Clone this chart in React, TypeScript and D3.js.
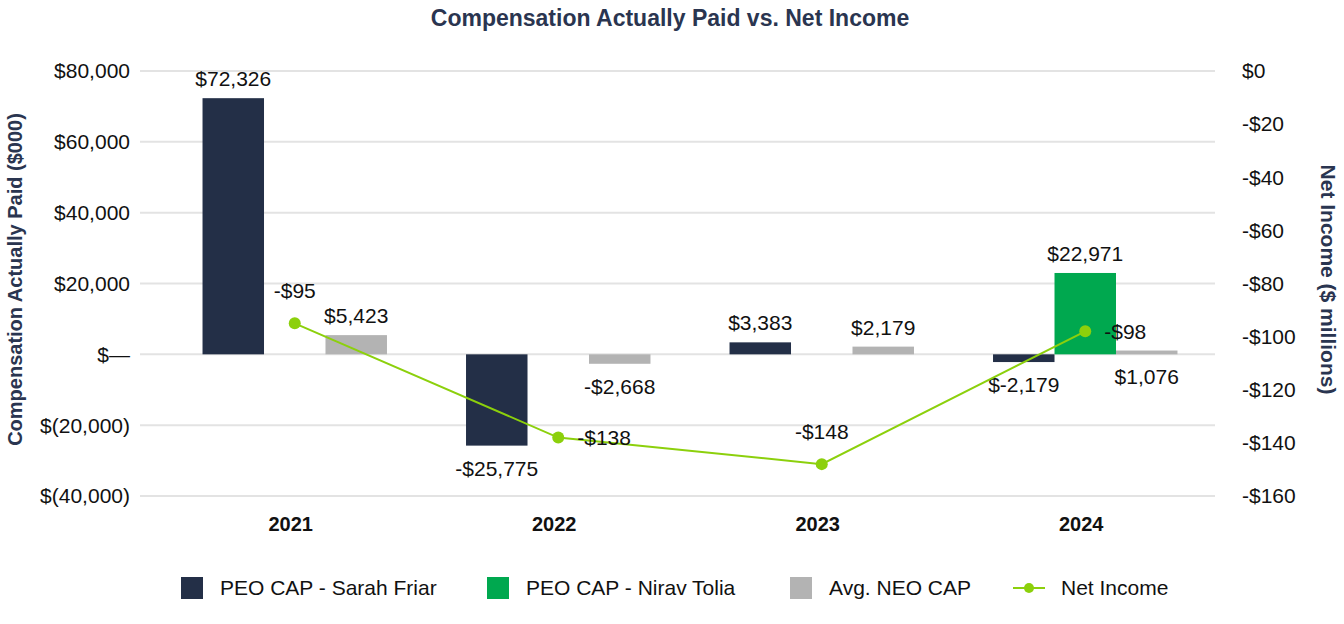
import * as d3 from "d3";

const years = ["2021", "2022", "2023", "2024"];
const series = ["friar", "tolia", "neo"];
const friarCap = [72326, -25775, 3383, -2179];
const friarLabels = ["$72,326", "-$25,775", "$3,383", "$-2,179"];
const toliaCap = [null, null, null, 22971];
const toliaLabels = ["", "", "", "$22,971"];
const neoCap = [5423, -2668, 2179, 1076];
const neoLabels = ["$5,423", "-$2,668", "$2,179", "$1,076"];
const netIncome = [-95, -138, -148, -98];
const leftTicks = [80000, 60000, 40000, 20000, 0, -20000, -40000];
const leftTickLabels = ["$80,000", "$60,000", "$40,000", "$20,000", "$\u2014", "$(20,000)", "$(40,000)"];
const rightTicks = [0, -20, -40, -60, -80, -100, -120, -140, -160];

const colors = { friar: "#232f47", tolia: "#00a84f", neo: "#b3b3b3", line: "#8cd00c" };
const navy = "#2a3550";
const font = "'Liberation Sans', Arial, Helvetica, sans-serif";

export default function App() {
  const width = 1344;
  const height = 624;
  const left = 140;
  const right = 1215;
  const top = 71;
  const bottom = 496;
  const fs = 21;

  const x = d3.scaleBand().domain(years).range([163, 1217]).paddingInner(0.3).paddingOuter(0.15);
  const sub = d3.scaleBand().domain(series).range([0, x.bandwidth()]);
  const yL = d3.scaleLinear().domain([-40000, 80000]).range([bottom, top]);
  const yR = d3.scaleLinear().domain([-160, 0]).range([bottom, top]);

  const barSets = [
    { key: "friar", values: friarCap, labels: friarLabels, below: [false, true, false, true] },
    { key: "tolia", values: toliaCap, labels: toliaLabels, below: [false, false, false, false] },
    { key: "neo", values: neoCap, labels: neoLabels, below: [false, true, false, true] },
  ];

  const cx = (i: number) => (x(years[i]) as number) + x.bandwidth() / 2;
  const line = d3
    .line<number>()
    .x((_, i) => cx(i))
    .y((d) => yR(d));

  // net income label placement
  const niPlace = ["above", "right", "above", "right"];

  const legend = [
    { type: "rect", color: colors.friar, label: "PEO CAP - Sarah Friar", x: 181 },
    { type: "rect", color: colors.tolia, label: "PEO CAP - Nirav Tolia", x: 487 },
    { type: "rect", color: colors.neo, label: "Avg. NEO CAP", x: 790 },
    { type: "line", color: colors.line, label: "Net Income", x: 1013 },
  ];

  return (
    <svg width={width} height={height} style={{ display: "block", position: "absolute", left: 0, top: 0 }} fontFamily={font}>
      <rect width={width} height={height} fill="white" />
      <text x={670} y={26} textAnchor="middle" fontSize={23} fontWeight="bold" fill={navy}>
        Compensation Actually Paid vs. Net Income
      </text>

      {leftTicks.map((t, i) => (
        <g key={t}>
          <line x1={left} x2={right} y1={yL(t)} y2={yL(t)} stroke="#e3e3e3" strokeWidth={2} />
          <text x={130} y={yL(t)} dy="0.35em" textAnchor="end" fontSize={fs} fill="#111">
            {leftTickLabels[i]}
          </text>
        </g>
      ))}
      {rightTicks.map((t) => (
        <text key={t} x={1242} y={yR(t)} dy="0.35em" fontSize={fs} fill="#111">
          {t === 0 ? "$0" : `-$${Math.abs(t)}`}
        </text>
      ))}

      <text
        transform={`translate(22, ${(top + bottom) / 2 - 4}) rotate(-90)`}
        textAnchor="middle"
        fontSize={20}
        fontWeight="bold"
        fill={navy}
      >
        Compensation Actually Paid ($000)
      </text>
      <text
        transform={`translate(1321, ${(top + bottom) / 2 - 4}) rotate(90)`}
        textAnchor="middle"
        fontSize={21}
        fontWeight="bold"
        fill={navy}
      >
        Net Income ($ millions)
      </text>

      {barSets.map((s) =>
        s.values.map((v, i) => {
          if (v === null) return null;
          const bx = (x(years[i]) as number) + (sub(s.key) as number);
          const bw = sub.bandwidth();
          const y0 = yL(0);
          const y1 = yL(v);
          const yBottom = Math.max(y0, y1);
          const yTop = Math.min(y0, y1);
          return (
            <g key={s.key + i}>
              <rect x={bx} y={yTop} width={bw} height={yBottom - yTop} fill={colors[s.key as keyof typeof colors]} />
              <text
                x={bx + bw / 2}
                y={s.below[i] ? yBottom + 30 : yTop - 12}
                textAnchor="middle"
                fontSize={fs}
                fill="#111"
              >
                {s.labels[i]}
              </text>
            </g>
          );
        })
      )}

      {years.map((yr) => (
        <text key={yr} x={(x(yr) as number) + x.bandwidth() / 2 - 4} y={531} textAnchor="middle" fontSize={20} fontWeight="bold" fill="#111">
          {yr}
        </text>
      ))}

      <path d={line(netIncome) ?? ""} fill="none" stroke={colors.line} strokeWidth={2} />
      {netIncome.map((v, i) => (
        <g key={i}>
          <circle cx={cx(i)} cy={yR(v)} r={6} fill={colors.line} />
          <text
            x={niPlace[i] === "above" ? cx(i) : cx(i) + 19}
            y={niPlace[i] === "above" ? yR(v) - 25 : yR(v)}
            dy={niPlace[i] === "above" ? 0 : "0.35em"}
            textAnchor={niPlace[i] === "above" ? "middle" : "start"}
            fontSize={fs}
            fill="#111"
          >
            {`-$${Math.abs(v)}`}
          </text>
        </g>
      ))}

      {legend.map((l) => (
        <g key={l.label}>
          {l.type === "rect" ? (
            <rect x={l.x} y={577} width={22} height={22} fill={l.color} />
          ) : (
            <g>
              <line x1={l.x} x2={l.x + 32} y1={588} y2={588} stroke={l.color} strokeWidth={2} />
              <circle cx={l.x + 16} cy={588} r={5} fill={l.color} />
            </g>
          )}
          <text x={l.type === "rect" ? l.x + 39 : l.x + 48} y={588} dy="0.35em" fontSize={fs} fill="#111">
            {l.label}
          </text>
        </g>
      ))}
    </svg>
  );
}
